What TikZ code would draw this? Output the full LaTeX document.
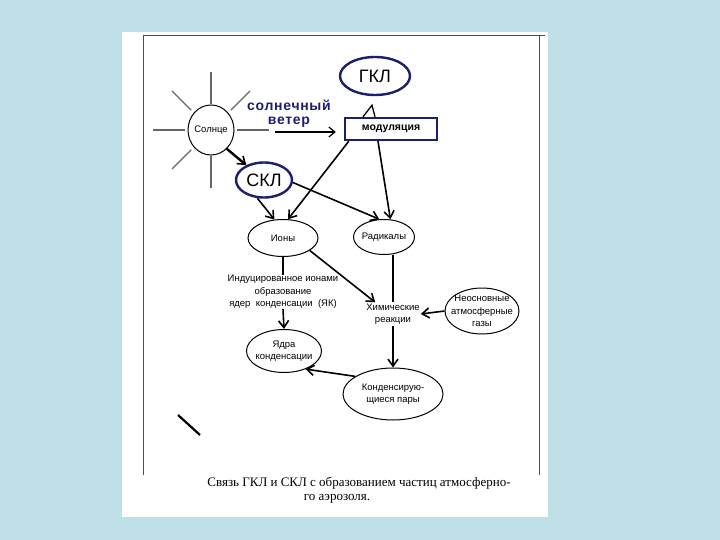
\documentclass[tikz,border=0pt]{standalone}
\usepackage{fontspec}
\setmainfont{Liberation Sans}
\newfontfamily\capfont{Liberation Serif}
\usetikzlibrary{arrows.meta,shapes.geometric,positioning}
\definecolor{slide}{RGB}{190,224,230}
\definecolor{ink}{RGB}{28,30,110}
\newcommand{\smallfnt}{\fontsize{9.5}{12.5}\selectfont}
\tikzset{
  oval/.style={ellipse,draw,line width=1pt,inner sep=-8pt,align=center,font=\smallfnt},
  cosmic/.style={ellipse,draw=ink,line width=2.4pt,inner sep=-4pt,font=\fontsize{18}{18}\selectfont},
  ray/.style={draw=gray!80!black,line width=1.2pt},
  link/.style={-{Straight Barb[length=7pt,width=10pt,line width=1.6pt]},line width=1.6pt},
}

\begin{document}
\begin{tikzpicture}[x=1pt,y=-1pt]
\fill[slide] (0,0) rectangle (720,540);
\fill[white] (122,32) rectangle (548,517);
\draw[gray!60!black,line width=0.8pt] (143,475) -- (143,35) -- (545,35);
\draw[gray!60!black,line width=0.8pt] (539,35) -- (539,475);

% Sun and its rays
\node[oval,minimum width=46pt,minimum height=50pt] (sun) at (211,130) {Солнце};
\foreach \a in {0,90,180,270}
  \draw[ray] (sun.center) ++(\a:26) -- ++(\a:32);
\foreach \a in {135,225,315}
  \draw[ray] (sun.center) ++(\a:28) -- ++(\a:27);

% cosmic rays
\node[cosmic,minimum width=70pt,minimum height=38pt] (gkl) at (375,76) {ГКЛ};
\node[cosmic,minimum width=56pt,minimum height=35pt] (skl) at (264,180) {СКЛ};
\node[draw=ink,line width=2.4pt,minimum width=92pt,minimum height=22pt,inner sep=0pt,
  font=\bfseries\fontsize{10.5}{11}\selectfont] (mod) at (391,129) {модуляция};
\node[text=ink,align=center,inner sep=0pt,
  font=\bfseries\fontsize{14}{14}\selectfont\addfontfeature{LetterSpace=5}]
  (windtxt) at (289,114) {солнечный\\ветер};
\coordinate (windtail) at (275,132);

% processes
\node[oval,minimum width=70pt,minimum height=37pt] (ions) at (283,238) {Ионы};
\node[oval,minimum width=61pt,minimum height=35pt] (rad) at (384,237) {Радикалы};
\node[align=center,inner sep=0pt,font=\smallfnt] (yk) at (283,292)
  {Индуцированное ионами\\образование\\ядер\ \ конденсации\ \ (ЯК)};
\node[align=center,inner sep=1pt,font=\smallfnt] (chem) at (393,314) {Химические\\реакции};
\node[oval,minimum width=74pt,minimum height=46pt] (gas) at (482,311)
  {Неосновные\\атмосферные\\газы};
\node[oval,minimum width=75pt,minimum height=43pt] (yadra) at (284,351) {Ядра\\конденсации};
\node[oval,minimum width=100pt,minimum height=52pt] (cond) at (393,394) {Конденсирую-\\щиеся пары};

% links
\draw[link,line width=2.4pt] (sun.-50) -- (skl.140);
\draw[-{Straight Barb[length=6pt,width=10pt,line width=1.2pt]},line width=1.2pt,shorten >=8pt]
  (windtail) -- (windtail -| mod.west);
\draw[line width=1.3pt] ([xshift=-28pt]mod.north) -- ([xshift=-3pt,yshift=-9pt]gkl.south)
  -- ([xshift=-16pt]mod.north);
\draw[link] ([xshift=5pt]mod.south west) -- (ions.75);
\draw[link] ([xshift=-13pt]mod.south) -- (rad.70);
\draw[link] (skl.250) -- (ions.115);
\draw[link] (skl.-5) -- (rad.105);
\draw[link] (ions.-25) -- ([xshift=10pt]chem.north west);
\draw[line width=1.6pt] (rad.south -| chem.north) -- (chem.north);
\draw[line width=1.6pt] (ions.south) -- (yk.north);
\draw[link] (yk.south) -- (yadra.north);
\draw[link] (gas.west) -- (chem.east);
\draw[link] (chem.south) -- (cond.north);
\draw[link] (cond.155) -- (yadra.-40);

\draw[line width=2.2pt] (178,415) -- (200,435);

% caption
\node[font=\capfont\fontsize{13}{16}\selectfont] (cap1) at (359,483)
  {Связь ГКЛ и СКЛ с образованием частиц атмосферно-};
\node[font=\capfont\fontsize{13}{16}\selectfont] (cap2) at (337,499) {го аэрозоля.};
\end{tikzpicture}
\end{document}
